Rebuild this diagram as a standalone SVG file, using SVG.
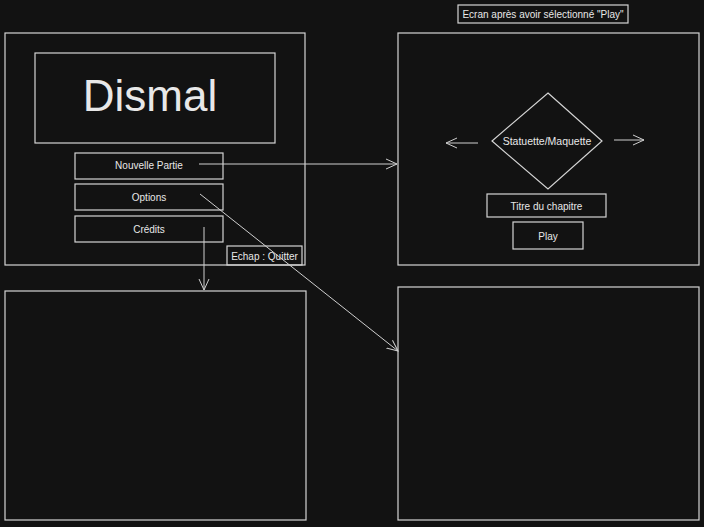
<svg xmlns="http://www.w3.org/2000/svg" width="704" height="527" viewBox="0 0 704 527">
<defs>
<style>
.b{fill:none;stroke:#d4d4d4;stroke-width:1.2}
.t{fill:#e8e8e8;font-family:"Liberation Sans",Arial,sans-serif;font-size:10px;text-anchor:middle;dominant-baseline:central}
.c{fill:none;stroke:#cfcfcf;stroke-width:1}
</style>
<marker id="ah" viewBox="0 0 12 12" refX="11" refY="6" markerWidth="12" markerHeight="12" markerUnits="userSpaceOnUse" orient="auto">
<path d="M0,1 L11,6 L0,11" fill="none" stroke="#cfcfcf" stroke-width="1"/>
</marker>
</defs>
<rect width="704" height="527" fill="#121212"/>
<g id="menu-frame"><rect class="b" x="5" y="33" width="300" height="232"/></g>
<g id="title"><rect class="b" x="35" y="53" width="240" height="90"/><text class="t" x="150" y="95" style="font-size:44px">Dismal</text></g>
<g id="nouvelle-partie"><rect class="b" x="75" y="153" width="148" height="26"/><text class="t" x="149" y="165">Nouvelle Partie</text></g>
<g id="options"><rect class="b" x="75" y="184" width="148" height="26"/><text class="t" x="149" y="197">Options</text></g>
<g id="credits"><rect class="b" x="75" y="216" width="148" height="26"/><text class="t" x="149" y="229">Crédits</text></g>
<g id="echap"><rect class="b" x="227" y="246" width="75" height="19"/><text class="t" x="264.5" y="256">Echap : Quitter</text></g>
<g id="play-label"><rect class="b" x="458" y="5" width="170" height="18"/><text class="t" x="543" y="14.5">Ecran après avoir sélectionné "Play"</text></g>
<g id="play-frame"><rect class="b" x="398" y="33" width="301" height="232"/></g>
<g id="statuette"><path class="b" d="M548,93 L602,141 L548,189 L492,141 Z"/><text class="t" x="547" y="141" style="font-size:10.5px">Statuette/Maquette</text></g>
<g id="titre-chapitre"><rect class="b" x="487" y="194" width="119" height="23"/><text class="t" x="546.5" y="206">Titre du chapitre</text></g>
<g id="play"><rect class="b" x="513" y="222" width="70" height="27"/><text class="t" x="548" y="236">Play</text></g>
<g id="credits-frame"><rect class="b" x="5" y="291" width="301" height="229"/></g>
<g id="options-frame"><rect class="b" x="398" y="287" width="301" height="233"/></g>
<g id="connectors">
<line class="c" x1="478" y1="143" x2="446" y2="143" marker-end="url(#ah)"/>
<line class="c" x1="614" y1="140" x2="644" y2="140" marker-end="url(#ah)"/>
<line class="c" x1="199" y1="164" x2="397" y2="164" marker-end="url(#ah)"/>
<line class="c" x1="200" y1="194" x2="398" y2="351" marker-end="url(#ah)"/>
<line class="c" x1="204" y1="227" x2="204" y2="290" marker-end="url(#ah)"/>
</g>
</svg>
